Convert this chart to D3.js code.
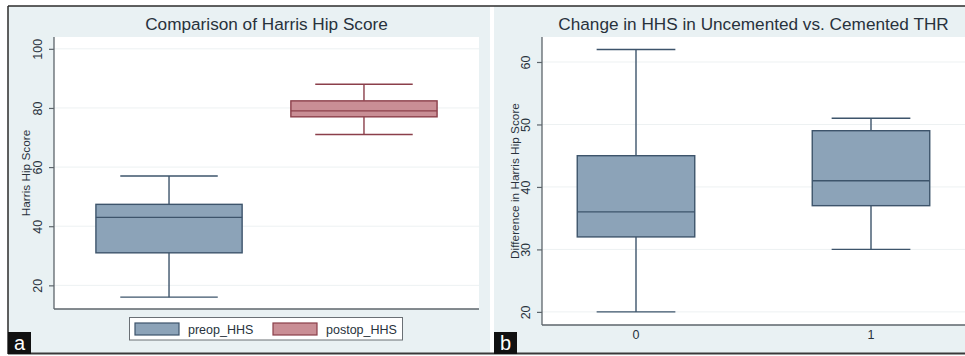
<!DOCTYPE html>
<html><head><meta charset="utf-8">
<script src="https://cdn.jsdelivr.net/npm/d3@7"></script>
<style>
html,body{margin:0;padding:0;background:#fff;}
svg{display:block;font-family:"Liberation Sans",Arial,sans-serif;}
</style></head>
<body>
<script>
// ---------- data ----------
const groupsA = ["preop_HHS", "postop_HHS"];
const minA = [16, 71];
const q1A = [31, 77];
const medA = [43, 79];
const q3A = [47.4, 82.4];
const maxA = [57, 88];
const ticksA = [20, 40, 60, 80, 100];

const groupsB = ["0", "1"];
const minB = [20, 30];
const q1B = [32, 37];
const medB = [36, 41];
const q3B = [45, 49];
const maxB = [62, 51];
const ticksB = [20, 30, 40, 50, 60];

const titleA = "Comparison of Harris Hip Score";
const titleB = "Change in HHS in Uncemented vs. Cemented THR";
const yTitleA = "Harris Hip Score";
const yTitleB = "Difference in Harris Hip Score";

const W = 965, H = 356;
const fillA = ["#8ca3b8", "#c98e95"], strokeA = ["#3d546b", "#8b3f4a"];
const panelBg = "#e9f1f3", axisCol = "#5d656b", gridCol = "#edf1f2", textCol = "#28323c";

const svg = d3.select("body").append("svg").attr("width", W).attr("height", H);

// panel backgrounds
svg.append("rect").attr("x", 8).attr("y", 6).attr("width", 482).attr("height", 347).attr("fill", panelBg);
svg.append("rect").attr("x", 494).attr("y", 6).attr("width", W - 494).attr("height", 347).attr("fill", panelBg);

function panel(cfg) {
  const g = svg.append("g");
  const y = d3.scaleLinear().domain(cfg.yDomain).range([cfg.bottom, cfg.top]);
  const x = d3.scalePoint().domain(cfg.groups).range([cfg.left, cfg.right]).padding(cfg.pad);
  const step = x.step();
  // plot area
  g.append("rect").attr("x", cfg.left).attr("y", cfg.top).attr("width", cfg.right - cfg.left)
    .attr("height", cfg.bottom - cfg.top).attr("fill", "#fff");
  // grid
  g.selectAll(".grid").data(cfg.ticks).join("line")
    .attr("x1", cfg.left).attr("x2", cfg.right)
    .attr("y1", d => y(d)).attr("y2", d => y(d))
    .attr("stroke", gridCol).attr("stroke-width", 1);
  // y axis
  const ya = g.append("g").attr("transform", `translate(${cfg.left},0)`)
    .call(d3.axisLeft(y).tickValues(cfg.ticks).tickSize(5).tickPadding(4));
  ya.select(".domain").attr("stroke", axisCol).attr("stroke-width", 1.3)
    .attr("d", `M0,${cfg.bottom}V${cfg.top}`);
  ya.selectAll(".tick line").attr("stroke", axisCol).attr("stroke-width", 1.2);
  ya.selectAll(".tick text").attr("fill", textCol).attr("font-size", 12.5)
    .attr("transform", "rotate(-90)").attr("x", 0).attr("y", -12)
    .attr("text-anchor", "middle").attr("dy", "0em");
  // bottom axis line
  g.append("line").attr("x1", cfg.left).attr("x2", cfg.right)
    .attr("y1", cfg.bottom).attr("y2", cfg.bottom).attr("stroke", axisCol).attr("stroke-width", 1.3);
  if (cfg.xLabels) {
    g.selectAll(".xl").data(cfg.groups).join("text")
      .attr("x", d => x(d)).attr("y", cfg.bottom + 14).attr("text-anchor", "middle")
      .attr("font-size", 12.5).attr("fill", textCol).text(d => d);
  }
  // boxes
  cfg.groups.forEach((gName, i) => {
    const cx = x(gName), bw = step * cfg.boxW, cw = step * cfg.capW;
    const st = cfg.stroke[i];
    const bg = g.append("g").attr("stroke", st).attr("stroke-width", 1.4);
    bg.append("line").attr("x1", cx).attr("x2", cx).attr("y1", y(cfg.max[i])).attr("y2", y(cfg.q3[i]));
    bg.append("line").attr("x1", cx).attr("x2", cx).attr("y1", y(cfg.q1[i])).attr("y2", y(cfg.min[i]));
    bg.append("line").attr("x1", cx - cw / 2).attr("x2", cx + cw / 2).attr("y1", y(cfg.max[i])).attr("y2", y(cfg.max[i]));
    bg.append("line").attr("x1", cx - cw / 2).attr("x2", cx + cw / 2).attr("y1", y(cfg.min[i])).attr("y2", y(cfg.min[i]));
    bg.append("rect").attr("x", cx - bw / 2).attr("width", bw)
      .attr("y", y(cfg.q3[i])).attr("height", y(cfg.q1[i]) - y(cfg.q3[i]))
      .attr("fill", cfg.fill[i]);
    bg.append("line").attr("x1", cx - bw / 2).attr("x2", cx + bw / 2).attr("y1", y(cfg.med[i])).attr("y2", y(cfg.med[i]));
  });
  // title
  g.append("text").attr("x", (cfg.left + cfg.right) / 2).attr("y", 30).attr("text-anchor", "middle")
    .attr("font-size", 17.2).attr("fill", textCol).text(cfg.title);
  // y title
  g.append("text").attr("transform", `translate(${cfg.yTitleX},${(cfg.top + cfg.bottom) / 2}) rotate(-90)`)
    .attr("text-anchor", "middle").attr("font-size", 11.8).attr("fill", textCol).text(cfg.yTitle);
  return { x, y };
}

panel({
  groups: groupsA, min: minA, q1: q1A, med: medA, q3: q3A, max: maxA, ticks: ticksA,
  yDomain: [12, 104], left: 54, right: 479, top: 37, bottom: 309, pad: 0.59,
  boxW: 0.75, capW: 0.5, fill: fillA, stroke: strokeA, title: titleA, yTitle: yTitleA,
  yTitleX: 30, xLabels: false
});

panel({
  groups: groupsB, min: minB, q1: q1B, med: medB, q3: q3B, max: maxB, ticks: ticksB,
  yDomain: [17.9, 64], left: 542, right: 965, top: 37, bottom: 325, pad: 0.4,
  boxW: 0.5, capW: 0.335, fill: [fillA[0], fillA[0]], stroke: [strokeA[0], strokeA[0]],
  title: titleB, yTitle: yTitleB, yTitleX: 518.5, xLabels: true
});

// legend for panel a
const lg = svg.append("g");
lg.append("rect").attr("x", 129.5).attr("y", 317.5).attr("width", 273).attr("height", 22.5)
  .attr("fill", "#fff").attr("stroke", "#6a7075").attr("stroke-width", 1);
const legX = d3.scaleOrdinal().domain(groupsA).range([135, 273]);
groupsA.forEach((gName, i) => {
  lg.append("rect").attr("x", legX(gName)).attr("y", 323).attr("width", 44).attr("height", 12)
    .attr("fill", fillA[i]).attr("stroke", strokeA[i]).attr("stroke-width", 1.2);
  lg.append("text").attr("x", legX(gName) + 53).attr("y", 333.5).attr("font-size", 12.5)
    .attr("fill", textCol).text(gName);
});

// frame lines
svg.append("line").attr("x1", 8).attr("x2", W).attr("y1", 6).attr("y2", 6).attr("stroke", "#2b2b2b").attr("stroke-width", 1.5);
svg.append("line").attr("x1", 8).attr("x2", 8).attr("y1", 6).attr("y2", 354).attr("stroke", "#2b2b2b").attr("stroke-width", 1.5);
svg.append("line").attr("x1", 8).attr("x2", W).attr("y1", 353.5).attr("y2", 353.5).attr("stroke", "#3a3a3a").attr("stroke-width", 1.8);

// panel letters
[["a", 8], ["b", 494]].forEach(([t, x0]) => {
  svg.append("rect").attr("x", x0).attr("y", 332).attr("width", 23).attr("height", 22).attr("fill", "#111");
  svg.append("text").attr("x", x0 + 11.5).attr("y", 350).attr("text-anchor", "middle")
    .attr("font-size", 20).attr("fill", "#fff").text(t);
});
</script>
</body></html>
